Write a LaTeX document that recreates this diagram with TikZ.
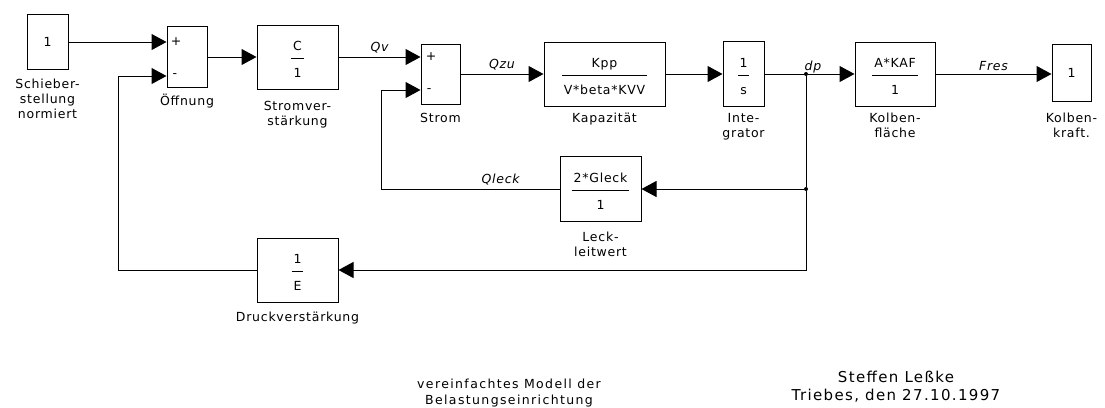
\documentclass[tikz,border=0pt]{standalone}
\usepackage{fontspec}
\usepackage{tikz}
\usetikzlibrary{arrows.meta,positioning}
\newfontfamily\simfont[LetterSpace=6]{DejaVu Sans}
\newfontfamily\notefont[LetterSpace=11]{DejaVu Sans}
\newfontfamily\authfont[LetterSpace=9]{DejaVu Sans}
\newcommand{\blockfont}{\simfont\fontsize{12.5}{15}\selectfont}
\setlength{\arrayrulewidth}{1pt}
% numerator over denominator, as in a transfer function block
\newcommand{\tf}[2]{\begin{tabular}{@{\hspace{2pt}}c@{\hspace{2pt}}}\rule{0pt}{17.5pt}#1\\[3pt]\hline\rule{0pt}{18.5pt}#2\end{tabular}}

\begin{document}
\begin{tikzpicture}[x=1pt, y=1pt,
    block/.style={rectangle, draw, line width=1pt, inner sep=0pt, font=\blockfont},
    lbl/.style={align=center, inner sep=1pt, font=\blockfont},
    sig/.style={inner sep=3pt, font=\blockfont\itshape},
    sgn/.style={inner sep=0pt, font=\blockfont},
    dot/.style={circle, fill, inner sep=0pt, minimum size=4pt},
    wire/.style={line width=1pt},
    arrow/.style={-{Triangle[length=15pt, width=16pt]}, line width=1pt}
]
\useasboundingbox (0,0) rectangle (1105,-407);
\fill[white] (0,0) rectangle (1105,-407);

% forward path
\node[block, minimum width=41pt, minimum height=55pt] (in) at (47.5,-42) {1};
\node[block, minimum width=40pt, minimum height=61pt] (sum1) at (187,-57) {};
\node[block, minimum width=81pt, minimum height=64pt] (gainC) at (297.5,-57) {\tf{C}{1}};
\node[block, minimum width=39pt, minimum height=60pt] (sum2) at (440.5,-74) {};
\node[block, minimum width=121pt, minimum height=64pt] (kap) at (604.5,-74) {\tf{Kpp}{V*beta*KVV}};
\node[block, minimum width=41pt, minimum height=65pt] (int) at (743.5,-74) {\tf{1}{s}};
\node[block, minimum width=80pt, minimum height=64pt] (kolb) at (895,-74) {\tf{A*KAF}{1}};
\node[block, minimum width=39pt, minimum height=57pt] (out) at (1071.5,-73) {1};

% feedback blocks
\node[block, minimum width=81pt, minimum height=65pt] (leck) at (600.5,-189) {\tf{2*Gleck}{1}};
\node[block, minimum width=81pt, minimum height=64pt] (drk) at (297.5,-270) {\tf{1}{E}};

% signs at the sum inputs
\node[sgn] (s1p) at (176,-42) {+};
\node[sgn] (s1n) at (175,-76) {-};
\node[sgn] (s2p) at (431,-57) {+};
\node[sgn] (s2n) at (429,-91) {-};

% branch points and corners
\node[dot] (dp) at (806,-74) {};
\node[dot] (dpl) at (806,-189) {};
\coordinate (fbo) at (118,-270);
\coordinate (fbs) at (381,-189);
\coordinate (s1m) at ([yshift=-19pt]sum1.west);
\coordinate (s2m) at ([yshift=-16pt]sum2.west);

% block names
\node[lbl, below=7.5pt of in] (inlbl) {Schieber-\\stellung\\normiert};
\node[lbl, below=4.5pt of sum1] (sum1lbl) {Öffnung};
\node[lbl, below=11pt of gainC] (gainClbl) {Stromver-\\stärkung};
\node[lbl, below=8pt of sum2] (sum2lbl) {Strom};
\node[lbl, below=5pt of kap] (kaplbl) {Kapazität};
\node[lbl, below=5pt of int] (intlbl) {Inte-\\grator};
\node[lbl, below=5.5pt of kolb] (kolblbl) {Kolben-\\fläche};
\node[lbl, below=9.5pt of out] (outlbl) {Kolben-\\kraft.};
\node[lbl, below=8.5pt of leck] (lecklbl) {Leck-\\leitwert};
\node[lbl, below=8pt of drk] (drklbl) {Druckverstärkung};

% connections
\draw[arrow] (in) -- (in -| sum1.west);
\draw[arrow] (sum1) -- (gainC);
\draw[arrow] (gainC) -- (gainC -| sum2.west) node[sig, midway, above] {Qv};
\draw[arrow] (sum2) -- (kap) node[sig, midway, above] {Qzu};
\draw[arrow] (kap) -- (int);
\draw[wire] (int) -- (dp);
\node[sig, anchor=south, inner sep=1pt, xshift=7pt] (dplbl) at (dp.center) {dp};
\draw[arrow] (dp) -- (kolb);
\draw[arrow] (kolb) -- (kolb -| out.west) node[sig, midway, above] {Fres};
\draw[wire] (dp) -- (dpl);
\draw[arrow] (dpl) -- (leck);
\draw[arrow] (dpl) |- (drk);
\draw[arrow] (leck) -- node[sig, pos=0.33, above] {Qleck} (fbs) |- (s2m);
\draw[arrow] (drk) -- (fbo) |- (s1m);

% notes
\node[font=\notefont\fontsize{12.5}{16}\selectfont, align=center] (note) at (509,-393.4) {vereinfachtes Modell der\\Belastungseinrichtung};
\node[font=\authfont\fontsize{15}{18}\selectfont, align=center] (author) at (896,-386.8) {Steffen Leßke\\Triebes, den 27.10.1997};
\end{tikzpicture}
\end{document}
